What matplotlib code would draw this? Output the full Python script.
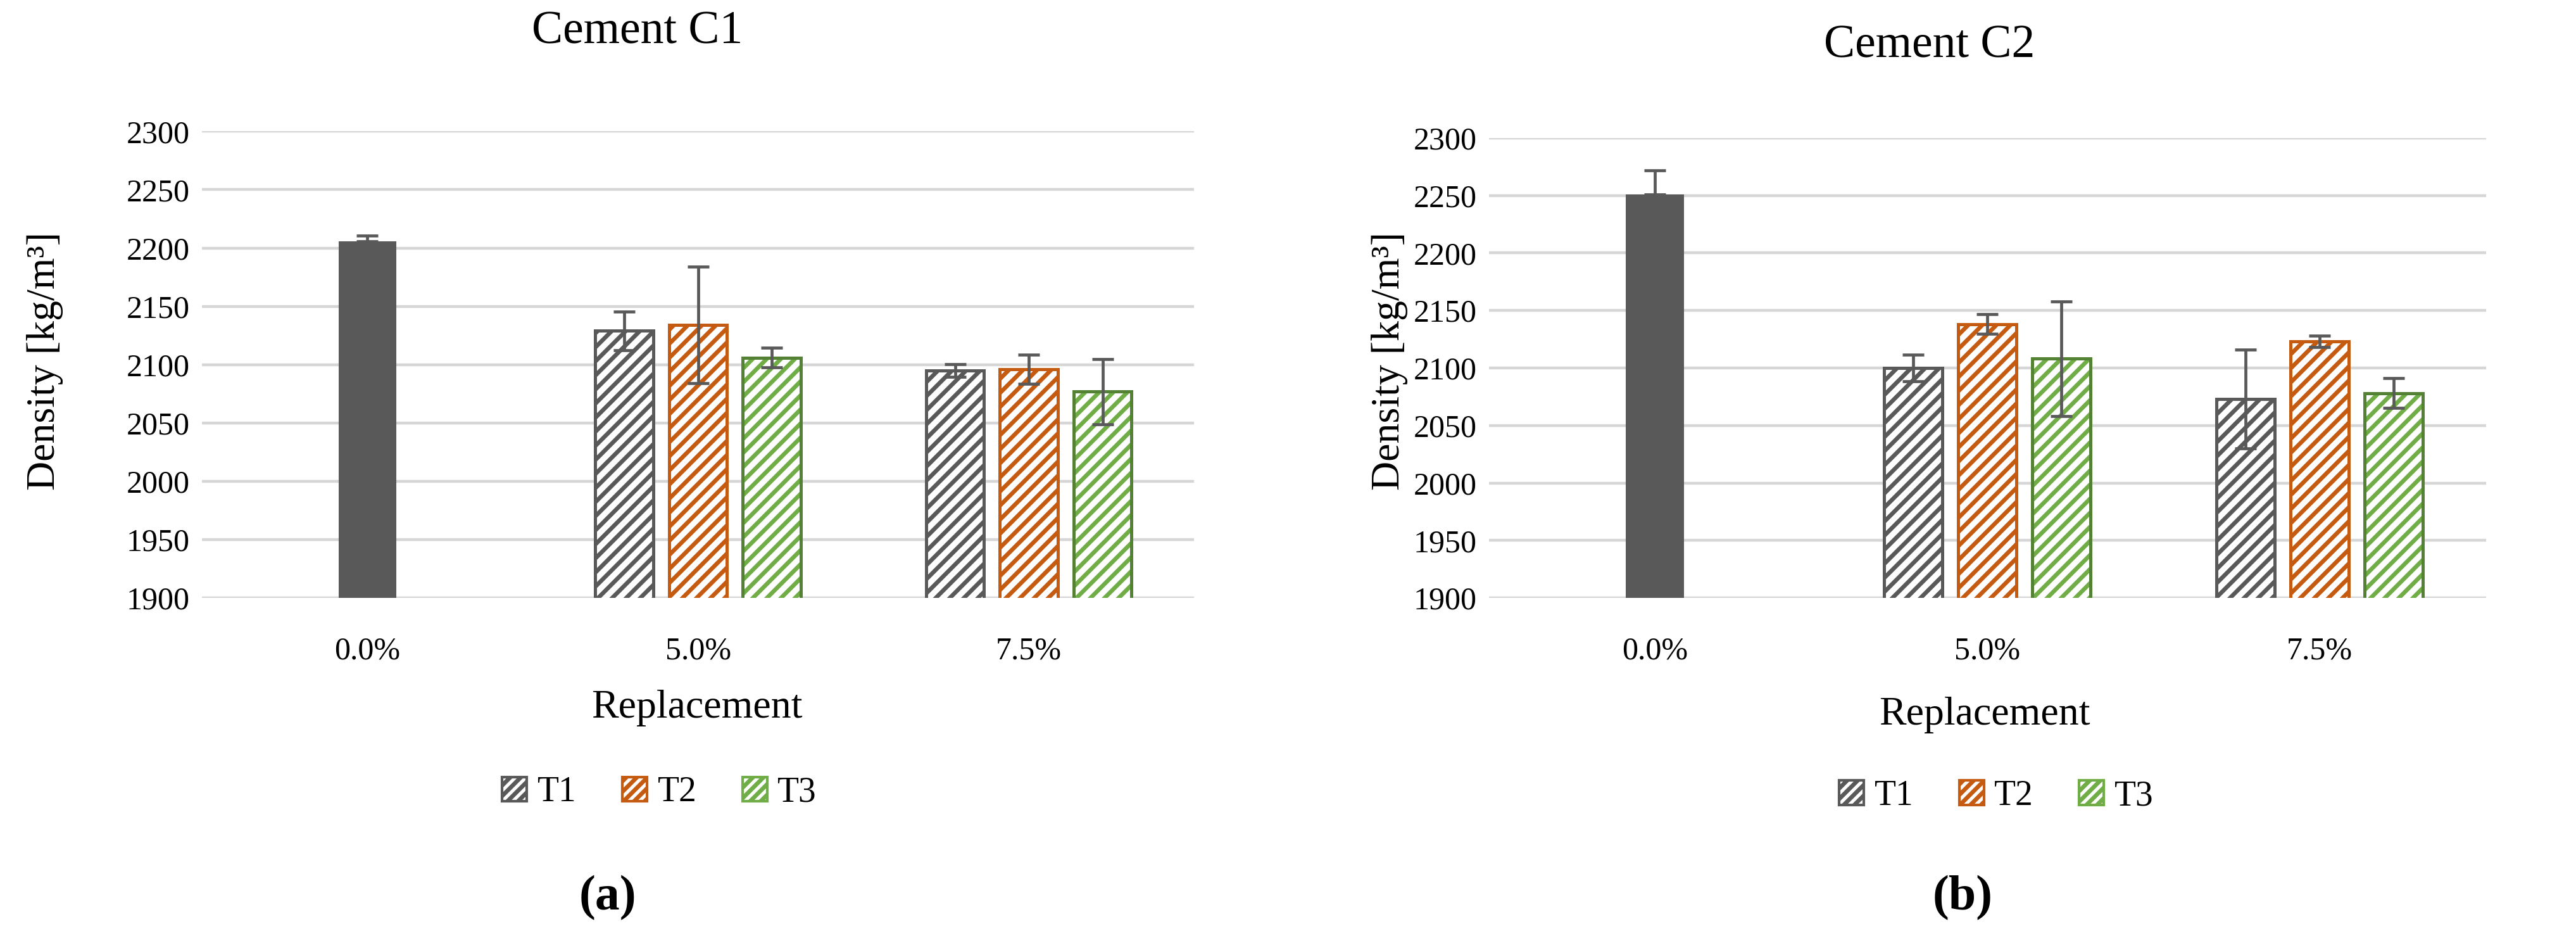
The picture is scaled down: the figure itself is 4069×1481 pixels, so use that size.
import matplotlib
matplotlib.use('Agg')
import matplotlib.pyplot as plt
from matplotlib.patches import Patch
import numpy as np

# data (density, kg/m3)
categories = ['0.0%', '5.0%', '7.5%']
series = ['T1', 'T2', 'T3']

c1_ref = 2205.5
c1_ref_err = 5
c1_t1 = [2129, 2095]
c1_t1_err = [16.5, 5.5]
c1_t2 = [2134, 2096]
c1_t2_err = [50, 12.5]
c1_t3 = [2106, 2077]
c1_t3_err = [8.5, 28]

c2_ref = 2251
c2_ref_err = 21
c2_t1 = [2100, 2073]
c2_t1_err = [11.5, 43]
c2_t2 = [2138, 2123]
c2_t2_err = [8.5, 5]
c2_t3 = [2108, 2078]
c2_t3_err = [50, 13]

yticks = [1900, 1950, 2000, 2050, 2100, 2150, 2200, 2250, 2300]

ref_color = '#595959'
hatch_colors = ['#595959', '#C55A11', '#70AD47']
edge_colors = ['#595959', '#C55A11', '#548235']
err_color = '#595959'
grid_color = '#D6D6D6'

plt.rcParams['font.family'] = 'Liberation Serif'
plt.rcParams['hatch.linewidth'] = 2.4

fig = plt.figure(figsize=(4069 / 200, 1481 / 200), dpi=200)

_width = 0.175
_offset = 0.223


def draw_panel(ax, ref, ref_err, vals, errs):
    x = np.arange(len(categories))
    ax.bar(x[0], ref, width=_width, color=ref_color, zorder=3)
    ax.errorbar(x[0], ref, yerr=[[0], [ref_err]], fmt='none', ecolor=err_color,
                elinewidth=1.7, capsize=6, capthick=1.7, zorder=5)
    for k in range(len(series)):
        xs = x[1:] + (k - 1) * _offset
        ax.bar(xs, vals[k], width=_width, facecolor='white', edgecolor=hatch_colors[k],
               linewidth=0, hatch='///', zorder=3)
        ax.bar(xs, vals[k], width=_width, facecolor='none', edgecolor=edge_colors[k],
               linewidth=1.8, zorder=4)
        ax.errorbar(xs, vals[k], yerr=errs[k], fmt='none', ecolor=err_color,
                    elinewidth=1.7, capsize=6, capthick=1.7, zorder=5)
    ax.set_xlim(-0.5, len(categories) - 0.5)
    ax.set_ylim(yticks[0], yticks[-1])
    ax.set_yticks(yticks)
    ax.set_xticks(x)
    ax.set_xticklabels(categories)
    ax.yaxis.grid(True, color=grid_color, linewidth=1.6, zorder=0)
    ax.set_axisbelow(True)
    for s in ax.spines.values():
        s.set_visible(False)
    ax.tick_params(axis='both', length=0, labelsize=18)
    ax.tick_params(axis='y', pad=7)
    ax.tick_params(axis='x', pad=22)


ax1 = fig.add_axes([0.0784, 0.3625, 0.3852, 0.4975])
draw_panel(ax1, c1_ref, c1_ref_err, [c1_t1, c1_t2, c1_t3], [c1_t1_err, c1_t2_err, c1_t3_err])

ax2 = fig.add_axes([0.578, 0.3625, 0.387, 0.4905])
draw_panel(ax2, c2_ref, c2_ref_err, [c2_t1, c2_t2, c2_t3], [c2_t1_err, c2_t2_err, c2_t3_err])

fig.text(0.2474, 0.966, 'Cement C1', ha='center', va='center', fontsize=26.5)
fig.text(0.749, 0.951, 'Cement C2', ha='center', va='center', fontsize=26.5)

fig.text(0.0175, 0.615, 'Density [kg/m³]', rotation=90, ha='center', va='center', fontsize=23)
fig.text(0.5395, 0.615, 'Density [kg/m³]', rotation=90, ha='center', va='center', fontsize=23)

fig.text(0.2705, 0.245, 'Replacement', ha='center', va='center', fontsize=23)
fig.text(0.7705, 0.238, 'Replacement', ha='center', va='center', fontsize=23)

handles = [Patch(facecolor='white', edgecolor=hatch_colors[k], hatch='////', linewidth=1.5)
           for k in range(len(series))]
for cx, cy in [(0.256, 0.155), (0.775, 0.151)]:
    fig.legend(handles, series, loc='center', bbox_to_anchor=(cx, cy), ncol=3,
               frameon=False, fontsize=20, handlelength=0.7, handleheight=0.7,
               handletextpad=0.3, columnspacing=1.3)

fig.text(0.236, 0.043, '(a)', ha='center', va='center', fontsize=28, fontweight='bold')
fig.text(0.762, 0.043, '(b)', ha='center', va='center', fontsize=28, fontweight='bold')

fig.savefig('out.png', dpi=200)
